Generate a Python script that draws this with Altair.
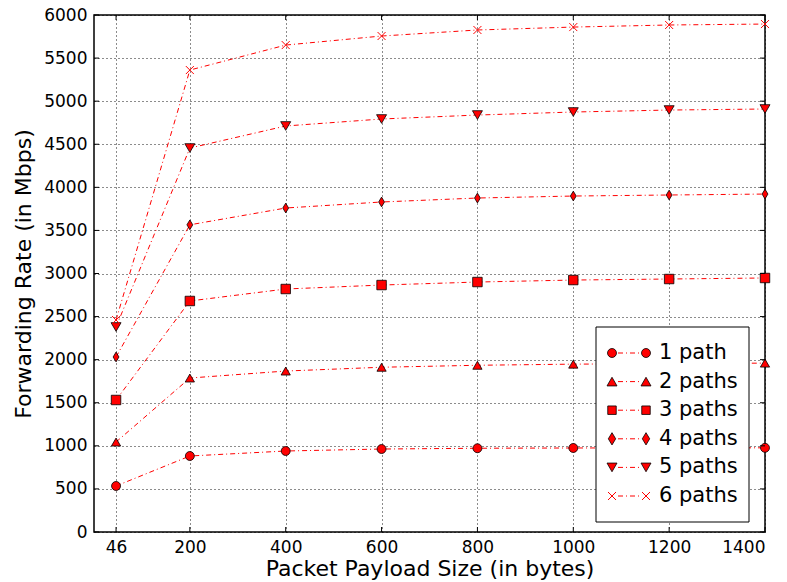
import altair as alt
import pandas as pd

sizes = [46, 200, 400, 600, 800, 1000, 1200, 1400]
series_names = ["1 path", "2 paths", "3 paths", "4 paths", "5 paths", "6 paths"]
rate_1 = [534, 882, 940, 963, 972, 975, 976, 977]
rate_2 = [1044, 1787, 1868, 1912, 1935, 1948, 1954, 1960]
rate_3 = [1532, 2681, 2820, 2866, 2901, 2924, 2936, 2948]
rate_4 = [2031, 3565, 3760, 3830, 3876, 3899, 3911, 3922]
rate_5 = [2379, 4456, 4712, 4793, 4839, 4874, 4897, 4909]
rate_6 = [2460, 5361, 5651, 5756, 5826, 5860, 5884, 5895]
x_ticks = [46, 200, 400, 600, 800, 1000, 1200, 1400]
y_ticks = [0, 500, 1000, 1500, 2000, 2500, 3000, 3500, 4000, 4500, 5000, 5500, 6000]

all_rates = [rate_1, rate_2, rate_3, rate_4, rate_5, rate_6]
rows = []
for name, vals in zip(series_names, all_rates):
    for s, v in zip(sizes, vals):
        rows.append({"size": s, "rate": v, "series": name})
df = pd.DataFrame(rows)

W, H = 671, 517
RED = "#ff0000"
FONT = "DejaVu Sans"
DIAMOND = "M0,-1L0.6,0L0,1L-0.6,0Z"
XMARK = "M-1,-1L1,1M-1,1L1,-1"
shapes = ["circle", "triangle-up", "square", DIAMOND, "triangle-down", XMARK]
sizes_mk = [80, 100, 72, 150, 100, 64]

xs = alt.Scale(domain=[0, 1400], nice=False, zero=False)
ys = alt.Scale(domain=[0, 6000], nice=False)

X = alt.X("size:Q", scale=xs, title="Packet Payload Size (in bytes)",
          axis=alt.Axis(values=x_ticks, format="d", labelPadding=7, titlePadding=3))
Y = alt.Y("rate:Q", scale=ys, title="Forwarding Rate (in Mbps)",
          axis=alt.Axis(values=y_ticks, format="d", labelPadding=7, titlePadding=8))

base = alt.Chart(df)

lines = base.mark_line(color=RED, strokeWidth=1, strokeDash=[5, 3, 1, 3]).encode(
    x=X, y=Y, detail="series:N")

filled = base.transform_filter(alt.datum.series != "6 paths").mark_point(
    filled=True, fill=RED, stroke="black", strokeWidth=0.8, opacity=1).encode(
    x="size:Q", y="rate:Q",
    shape=alt.Shape("series:N", scale=alt.Scale(domain=series_names[:5], range=shapes[:5]), legend=None),
    size=alt.Size("series:N", scale=alt.Scale(domain=series_names[:5], range=sizes_mk[:5]), legend=None))

crosses = base.transform_filter(alt.datum.series == "6 paths").mark_point(
    shape=XMARK, filled=False, stroke=RED, strokeWidth=1, size=sizes_mk[5], opacity=1).encode(
    x="size:Q", y="rate:Q")

# inward ticks
ydf = pd.DataFrame({"rate": y_ticks})
xdf = pd.DataFrame({"size": x_ticks})
tick_layers = [
    alt.Chart(ydf).mark_rule(color="black", strokeWidth=1).encode(y="rate:Q", x=alt.value(0), x2=alt.value(5)),
    alt.Chart(ydf).mark_rule(color="black", strokeWidth=1).encode(y="rate:Q", x=alt.value(W - 5), x2=alt.value(W)),
    alt.Chart(xdf).mark_rule(color="black", strokeWidth=1).encode(x="size:Q", y=alt.value(H - 5), y2=alt.value(H)),
    alt.Chart(xdf).mark_rule(color="black", strokeWidth=1).encode(x="size:Q", y=alt.value(0), y2=alt.value(5)),
]

# manual legend
one = pd.DataFrame({"k": [0]})
leg_layers = [
    alt.Chart(one).mark_rect(fill="white", stroke="black", strokeWidth=1).encode(
        x=alt.value(502), x2=alt.value(655), y=alt.value(312), y2=alt.value(507))
]
for i, name in enumerate(series_names):
    yy = 338 + i * 28.6
    leg_layers.append(alt.Chart(one).mark_rule(color=RED, strokeWidth=1, strokeDash=[5, 3, 1, 3]).encode(
        x=alt.value(524), x2=alt.value(547), y=alt.value(yy)))
    for xx in (518, 552):
        if i < 5:
            pt = alt.Chart(one).mark_point(shape=shapes[i], filled=True, fill=RED, stroke="black",
                                           strokeWidth=0.8, size=sizes_mk[i], opacity=1)
        else:
            pt = alt.Chart(one).mark_point(shape=XMARK, filled=False, stroke=RED, strokeWidth=1,
                                           size=sizes_mk[5], opacity=1)
        leg_layers.append(pt.encode(x=alt.value(xx), y=alt.value(yy)))
    leg_layers.append(alt.Chart(pd.DataFrame({"label": [name]})).mark_text(
        align="left", baseline="middle", font=FONT, fontSize=21, color="black").encode(
        x=alt.value(565), y=alt.value(yy), text="label:N"))

chart = alt.layer(lines, filled, crosses, *tick_layers, *leg_layers).properties(
    width=W, height=H,
    autosize=alt.AutoSizeParams(type="none"),
    padding={"left": 94, "top": 15, "right": 22, "bottom": 50},
).configure_view(stroke="black", strokeWidth=1.5).configure_axis(
    grid=True, gridColor="black", gridDash=[1, 3], gridWidth=1, gridOpacity=0.9,
    domain=False, ticks=False,
    labelFont=FONT, labelFontSize=17, labelColor="black",
    titleFont=FONT, titleFontSize=22, titleFontWeight="normal", titleColor="black",
)

chart.save("out.html", embed_options={"renderer": "svg", "actions": False})
